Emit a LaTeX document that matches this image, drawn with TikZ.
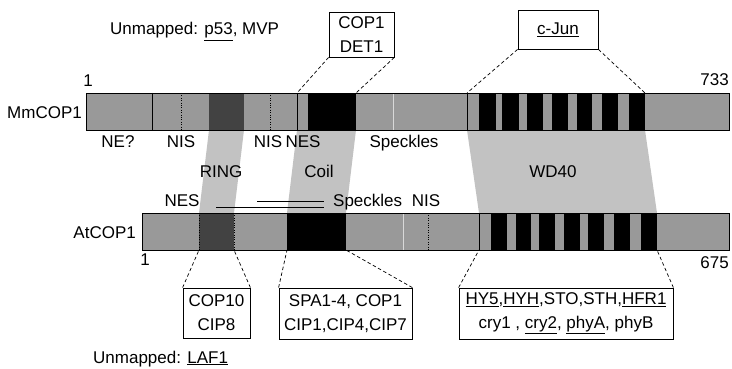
\documentclass[tikz,border=0pt]{standalone}
\usepackage{fontspec}
\setmainfont{Liberation Sans}
\definecolor{bargray}{gray}{0.6}
\definecolor{ringgray}{gray}{0.26}
\definecolor{mapshade}{gray}{0.76}
\definecolor{splitgray}{gray}{0.85}

\begin{document}
\begin{tikzpicture}[x=1pt,y=-1pt,line join=miter,
  font=\fontsize{17}{24}\selectfont,
  lbl/.style={inner sep=0pt,anchor=base},
  ibox/.style={draw,line width=0.8pt,fill=white,align=center,inner sep=0pt},
  link/.style={line width=0.7pt,dash pattern=on 3.5pt off 2.5pt},
  cut/.style={line width=0.8pt},
  dots/.style={line width=0.7pt,dash pattern=on 0.8pt off 1.6pt}]
  \useasboundingbox (0,0) rectangle (732,369);
  % mapping bands between the two proteins
  \fill[mapshade] (209,130) -- (244,130) -- (234,213) -- (199,213) -- cycle;
  \fill[mapshade] (297,130) -- (356,130) -- (346,213) -- (287,213) -- cycle;
  \fill[mapshade] (467,130) -- (645,130) -- (657,213) -- (479,213) -- cycle;
  % MmCOP1
  \fill[bargray] (86,93) rectangle (729,130);
  \fill[ringgray] (209,93) rectangle (244,130);
  \fill[black] (308,93) rectangle (356,130);
  \foreach \a/\b in {479/496,502/519,527/543,552/568,577/592,602/618,629/645}
    \fill[black] (\a,93) rectangle (\b,130);
  \draw[cut] (152,93) -- (152,130);
  \draw[cut] (297,93) -- (297,130);
  \draw[cut] (467,93) -- (467,130);
  \draw[dots] (181,93) -- (181,130);
  \draw[dots] (270,93) -- (270,130);
  \draw[splitgray,line width=0.8pt] (393,93) -- (393,130);
  \draw[line width=0.9pt] (86,93) rectangle (729,130);
  % AtCOP1
  \fill[bargray] (142,213) rectangle (729,250);
  \fill[ringgray] (199,213) rectangle (234,250);
  \fill[black] (287,213) rectangle (346,250);
  \foreach \a/\b in {491/507,516/531,539/555,564/580,588/604,614/630,641/657}
    \fill[black] (\a,213) rectangle (\b,250);
  \draw[cut] (479,213) -- (479,250);
  \draw[dots] (199,213) -- (199,250);
  \draw[dots] (234,213) -- (234,250);
  \draw[dots] (428,213) -- (428,250);
  \draw[splitgray,line width=0.8pt] (403,213) -- (403,250);
  \draw[line width=0.9pt] (142,213) rectangle (729,250);
  % ends of the mapped regions
  \coordinate (t1) at (297,93);
  \coordinate (t2) at (356,93);
  \coordinate (t3) at (467,93);
  \coordinate (t4) at (645,93);
  \coordinate (b1) at (199,250);
  \coordinate (b2) at (234,250);
  \coordinate (b3) at (287,250);
  \coordinate (b4) at (346,250);
  \coordinate (b5) at (479,250);
  \coordinate (b6) at (657,250);
  % labels
  \node[lbl,anchor=base west] (unmapTop) at (110,35) {Unmapped: \underline{p53}, MVP};
  \node[lbl] (startTop) at (88,87) {1};
  \node[lbl,anchor=base east] (endTop) at (729,86) {733};
  \node[lbl,anchor=base east] (mm) at (82,118) {MmCOP1};
  \node[lbl] (neq) at (118,147) {NE?};
  \node[lbl] (nisA) at (181,147) {NIS};
  \node[lbl] (nisB) at (268,147) {NIS};
  \node[lbl] (nesA) at (303,147) {NES};
  \node[lbl] (speckA) at (404,147) {Speckles};
  \node[lbl] (ring) at (221,177) {RING};
  \node[lbl] (coil) at (319,177) {Coil};
  \node[lbl] (wd) at (553,178) {WD40};
  \node[lbl] (nesB) at (182,206) {NES};
  \node[lbl,anchor=base west] (speckB) at (333,206) {Speckles};
  \node[lbl] (nisC) at (426,206) {NIS};
  \node[lbl,anchor=base east] (at) at (136,238) {AtCOP1};
  \node[lbl] (startBot) at (145,265) {1};
  \node[lbl,anchor=base east] (endBot) at (729,268) {675};
  \node[lbl,anchor=base west] (unmapBot) at (93,363) {Unmapped: \underline{LAF1}};
  \coordinate (sp1) at (257,201);
  \coordinate (sp2) at (216,207.5);
  \draw[line width=0.8pt] (sp1) -- (324,201);
  \draw[line width=0.8pt] (sp2) -- (324,207.5);
  % partner boxes
  \node[ibox,minimum width=65pt,minimum height=45pt] (copdet) at (361.5,34.5) {COP1\\DET1};
  \node[ibox,minimum width=80pt,minimum height=39pt] (cjun) at (558,29.5) {\underline{c-Jun}};
  \node[ibox,minimum width=67pt,minimum height=50pt] (cop10) at (216.5,313) {COP10\\CIP8};
  \node[ibox,minimum width=133pt,minimum height=51pt] (spa) at (345.5,313.5) {SPA1-4, COP1\\CIP1,CIP4,CIP7};
  \node[ibox,minimum width=214pt,minimum height=51pt] (hy5) at (566,313.5)
    {\underline{HY5},\underline{HYH},STO,STH,\underline{HFR1}\\cry1 , \underline{cry2}, \underline{phyA}, phyB};
  \draw[link] (copdet.south west) -- (t1);
  \draw[link] (copdet.south east) -- (t2);
  \draw[link] (cjun.south west) -- (t3);
  \draw[link] (cjun.south east) -- (t4);
  \draw[link] (cop10.north west) -- (b1);
  \draw[link] (cop10.north east) -- (b2);
  \draw[link] (spa.north west) -- (b3);
  \draw[link] (spa.north east) -- (b4);
  \draw[link] (hy5.north west) -- (b5);
  \draw[link] (hy5.north east) -- (b6);
\end{tikzpicture}
\end{document}
